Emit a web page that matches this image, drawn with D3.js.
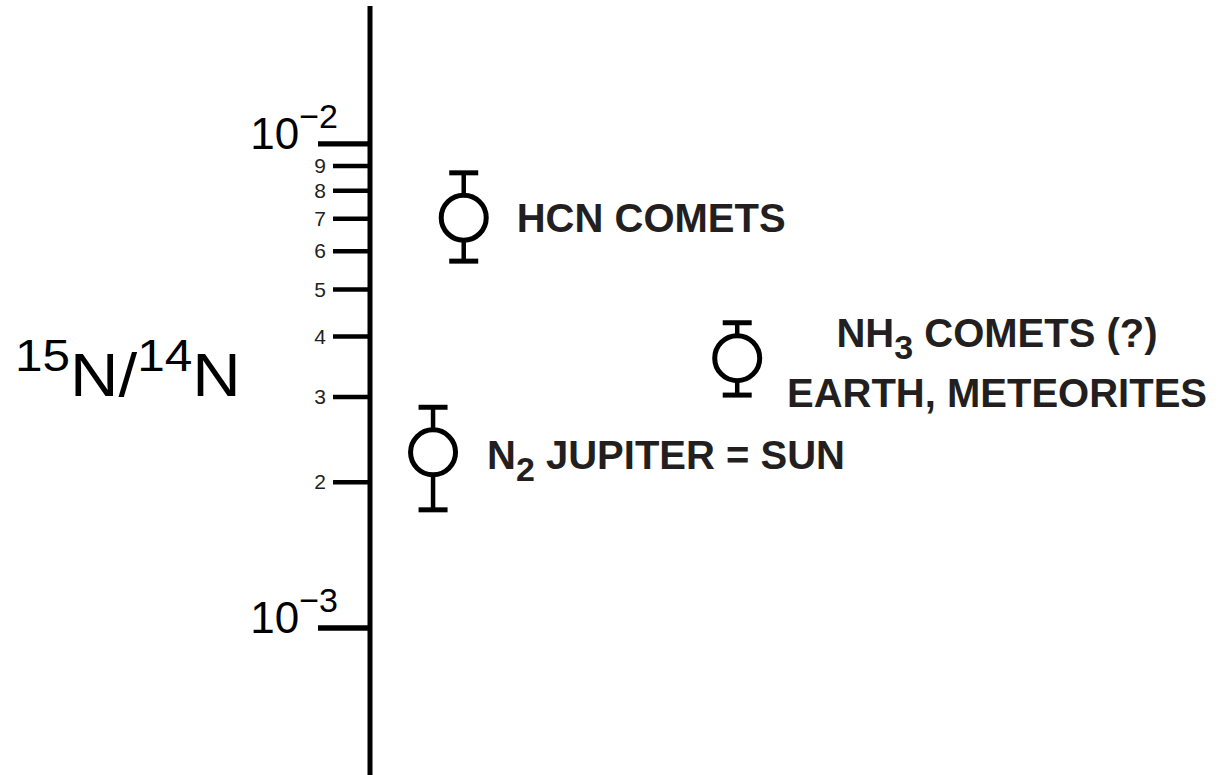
<!DOCTYPE html>
<html><head><meta charset="utf-8">
<script src="https://cdn.jsdelivr.net/npm/d3@7"></script>
<style>body{margin:0;background:#fff}svg{display:block}</style>
</head><body><svg id="c" width="1222" height="775"></svg>
<script>
// ---- data ----
const species = ["HCN", "NH3", "N2"];
const ratioValues = [7.02e-3, 3.60e-3, 2.30e-3];
const ratioUpper  = [8.69e-3, 4.26e-3, 2.85e-3];
const ratioLower  = [5.71e-3, 3.02e-3, 1.75e-3];
const xSlots      = [0.110, 0.431, 0.074];
const majorTicks  = [1e-3, 1e-2];
const majorExp    = ["3", "2"];
const minorTicks  = [2e-3, 3e-3, 4e-3, 5e-3, 6e-3, 7e-3, 8e-3, 9e-3];
const minorLabels = ["2", "3", "4", "5", "6", "7", "8", "9"];

const W = 1222, H = 775;
const svg = d3.select("#c");
const FONT = "'Liberation Sans', Arial, Helvetica, sans-serif";
const TXT = "#231f20";

const axisX = 370;
const y = d3.scaleLog().domain([1e-3, 1e-2]).range([627.5, 143.3]);
const x = d3.scaleLinear().domain([0, 1]).range([axisX, W]);

// axis line
svg.append("line").attr("x1", axisX).attr("x2", axisX).attr("y1", 6).attr("y2", H)
  .attr("stroke", "#000").attr("stroke-width", 5);

// minor ticks
const gMinor = svg.append("g").attr("transform", `translate(${axisX},0)`)
  .call(d3.axisLeft(y).tickValues(minorTicks).tickSize(37).tickPadding(7)
    .tickFormat((d, i) => minorLabels[i]));
gMinor.select(".domain").remove();
gMinor.selectAll(".tick line").attr("stroke", "#000").attr("stroke-width", 4.5);
gMinor.selectAll(".tick text").attr("font-family", FONT).attr("font-size", 21)
  .attr("fill", TXT).attr("dy", "0.34em");

// major ticks
const gMajor = svg.append("g").attr("transform", `translate(${axisX},0)`)
  .call(d3.axisLeft(y).tickValues(majorTicks).tickSize(52).tickFormat(() => ""));
gMajor.select(".domain").remove();
gMajor.selectAll(".tick line").attr("stroke", "#000").attr("stroke-width", 5.3);
gMajor.selectAll(".tick text").remove();
gMajor.selectAll(".tick").each(function(d, i) {
  const t = d3.select(this).append("text")
    .attr("x", -32).attr("y", 5).attr("text-anchor", "end")
    .attr("font-family", FONT).attr("fill", "#000");
  t.append("tspan").attr("font-size", 44).text("10");
  t.append("tspan").attr("font-size", 34).attr("dy", -21).text("\u2212" + majorExp[i]);
});

// y-axis title
const title = svg.append("text").attr("font-family", FONT).attr("fill", "#000")
  .attr("transform", "translate(15,396) scale(1.1,1)");
title.append("tspan").attr("font-size", 45).attr("dy", -25).text("15");
title.append("tspan").attr("font-size", 61).attr("dy", 25).text("N/");
title.append("tspan").attr("font-size", 45).attr("dy", -25).text("14");
title.append("tspan").attr("font-size", 61).attr("dy", 25).text("N");

// error bars and points
const pts = species.map((s, i) => ({s, v: ratioValues[i], hi: ratioUpper[i], lo: ratioLower[i], xs: xSlots[i]}));
const g = svg.append("g").attr("stroke", "#000").attr("fill", "none");
pts.forEach(p => {
  const cx = x(p.xs);
  g.append("line").attr("x1", cx).attr("x2", cx).attr("y1", y(p.hi)).attr("y2", y(p.lo)).attr("stroke-width", 4.5);
  g.append("line").attr("x1", cx - 14.5).attr("x2", cx + 14.5).attr("y1", y(p.hi)).attr("y2", y(p.hi)).attr("stroke-width", 5);
  g.append("line").attr("x1", cx - 14.5).attr("x2", cx + 14.5).attr("y1", y(p.lo)).attr("y2", y(p.lo)).attr("stroke-width", 5);
  g.append("circle").attr("cx", cx).attr("cy", y(p.v)).attr("r", 22.5)
    .attr("fill", "#fff").attr("stroke-width", 5);
});

// labels
const lab = svg.append("g").attr("font-family", FONT).attr("font-weight", "bold")
  .attr("font-size", 40).attr("fill", TXT);
// HCN
lab.append("text").attr("x", x(xSlots[0]) + 53).attr("y", y(ratioValues[0]) + 14.5).text("HCN COMETS");
// NH3
const t1 = lab.append("text").attr("x", 997).attr("y", y(ratioValues[1]) - 11).attr("text-anchor", "middle");
t1.append("tspan").text("NH");
t1.append("tspan").attr("font-size", 34).attr("dy", 12).text("3");
t1.append("tspan").attr("dy", -12).text(" COMETS (?)");
lab.append("text").attr("x", 997).attr("y", y(ratioValues[1]) + 49).attr("text-anchor", "middle").text("EARTH, METEORITES");
// N2
const t2 = lab.append("text").attr("x", x(xSlots[2]) + 54).attr("y", y(ratioValues[2]) + 17);
t2.append("tspan").text("N");
t2.append("tspan").attr("font-size", 34).attr("dy", 12).text("2");
t2.append("tspan").attr("dy", -12).text(" JUPITER = SUN");
</script>
</body></html>
